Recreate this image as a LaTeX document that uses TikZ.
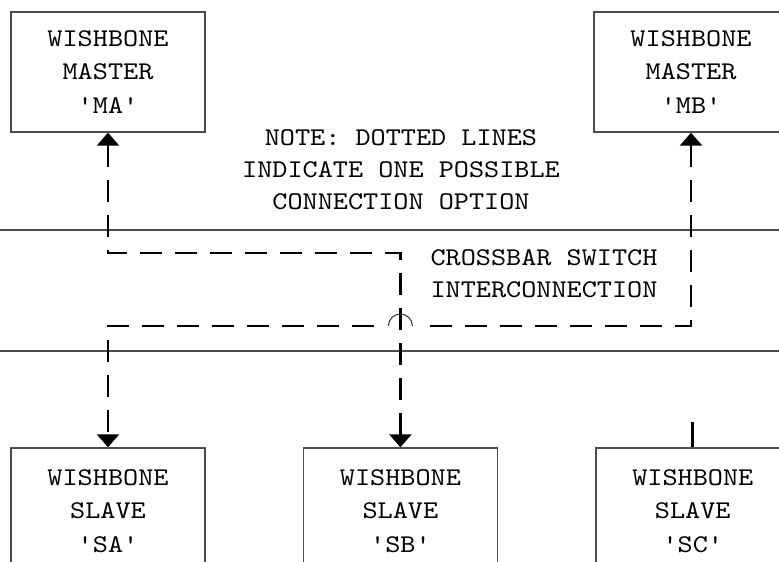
\documentclass[tikz,border=0pt]{standalone}
\usepackage{fontspec}
\setmonofont{lmmono10-regular}[Extension=.otf, FakeStretch=1.13]
\usetikzlibrary{arrows.meta,positioning}

\begin{document}
\begin{tikzpicture}[
        x=1pt, y=1pt,
        node distance=97pt,
        >={Triangle[length=13pt, width=22pt]},
        unit/.style={rectangle, draw=black!70, line width=1.4pt, minimum width=194pt,
                     align=center, font=\ttfamily\fontsize{25.5}{33.5}\selectfont},
        master/.style={unit, minimum height=120pt},
        slave/.style={unit, minimum height=126pt},
        bus/.style={rectangle, draw=black!70, line width=1.4pt, minimum width=800pt,
                    minimum height=121pt},
        note/.style={align=center, font=\ttfamily\fontsize{25.5}{32}\selectfont},
        link/.style={line width=2.6pt, dash pattern=on 22pt off 13pt},
        hop/.style={line width=1pt, black!80}
    ]
        \useasboundingbox (0,0) rectangle (779,562);
        \clip (0,0) rectangle (779,562);

        % masters
        \node[master] (ma) at (108,490) {WISHBONE\\MASTER\\'MA'};
        \node[master] (mb) at (691,490) {WISHBONE\\MASTER\\'MB'};

        % crossbar
        \node[bus] (xbar) at (390,271.5) {};
        \node[note] (xlabel) at (544,288) {CROSSBAR SWITCH\\INTERCONNECTION};
        \node[note] (note) at (401,392) {NOTE: DOTTED LINES\\INDICATE ONE POSSIBLE\\CONNECTION OPTION};

        % slaves
        \node[slave] (sa) at (108,51) {WISHBONE\\SLAVE\\'SA'};
        \node[slave, right=of sa] (sb) {WISHBONE\\SLAVE\\'SB'};
        \node[slave, right=of sb] (sc) {WISHBONE\\SLAVE\\'SC'};

        \coordinate (ta) at (108,309);
        \coordinate (tb) at (sb |- ta);
        \coordinate (ub) at (mb |- 0,236);
        \coordinate (ua) at (sa |- ub);
        \coordinate (hopc) at (tb |- ub);
        \coordinate (hopr) at (424,236);
        \coordinate (hopl) at (374,236);

        % MA <-> SB
        \draw[link, <->] (ma.south) -- (ta) -- (tb) -- (sb.north);
        % MB <-> SA, hopping over the other line
        \draw[link, <-] (mb.south) -- (ub) -- (hopr);
        \draw[hop] (hopc) ++(12,0) arc[start angle=0, end angle=180, radius=12];
        \draw[link, ->] (hopl) -- (ua) -- (sa.north);

        \draw[line width=2.8pt] (sc.north) -- ++(0,25);
    \end{tikzpicture}
\end{document}
